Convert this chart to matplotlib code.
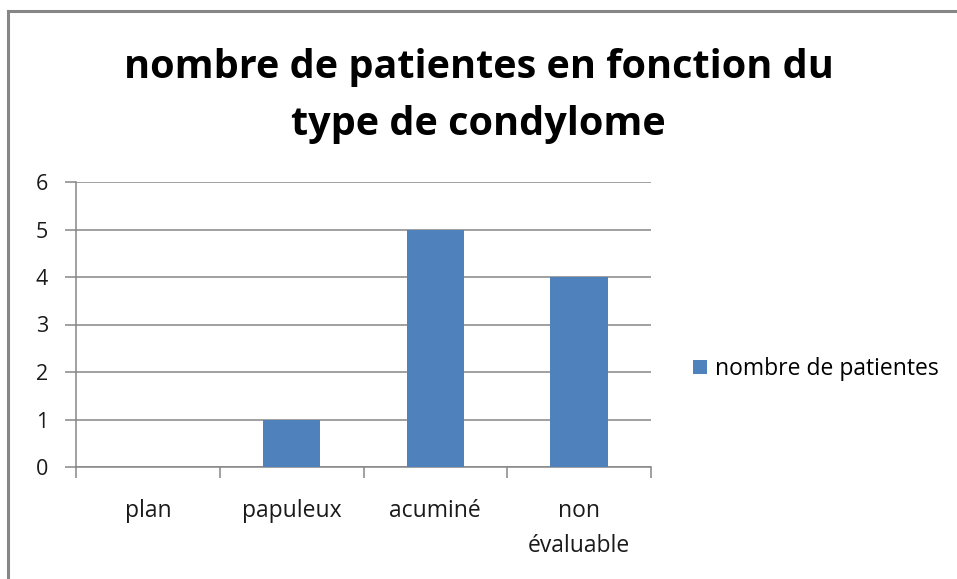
import numpy as np
import matplotlib.pyplot as plt

categories = ["plan", "papuleux", "acuminé", "non\névaluable"]
patientes = [0, 1, 5, 4]
yticks = [0, 1, 2, 3, 4, 5, 6]

plt.rcParams['font.family'] = ['Open Sans', 'DejaVu Sans']

fig = plt.figure(figsize=(9.57, 5.79), dpi=100)
W, H = 957, 579

# chart frame (left + top border only visible)
fig.add_artist(plt.Line2D([8 / W, 8 / W], [0, 1 - 11 / H], transform=fig.transFigure,
                          color="#868686", lw=2.2))
fig.add_artist(plt.Line2D([8 / W, 1], [1 - 11 / H, 1 - 11 / H], transform=fig.transFigure,
                          color="#868686", lw=2.2))

ax = fig.add_axes([76 / W, 1 - 467 / H, (651 - 76) / W, (467 - 182) / H])
x = np.arange(len(categories))
ax.bar(x, patientes, width=0.4, color="#4F81BD", zorder=3, label="nombre de patientes")

ax.set_xlim(-0.5, len(categories) - 0.5)
ax.set_ylim(0, 6)
ax.set_yticks(yticks)
ax.set_yticklabels([str(v) for v in yticks], fontsize=15.5, color="#1a1a1a")
ax.yaxis.grid(True, color="#868686", lw=1.1, zorder=0)

ax.set_xticks(x)
ax.set_xticklabels(categories, fontsize=16.5, color="#1a1a1a", linespacing=1.6)
ax.set_xticks(np.arange(len(categories) + 1) - 0.5, minor=True)
ax.tick_params(axis='x', which='major', length=0, pad=23)
ax.tick_params(axis='x', which='minor', length=8, color="#868686", width=1.1)
ax.tick_params(axis='y', length=8, color="#868686", width=1.1, pad=12)

for s in ["top", "right"]:
    ax.spines[s].set_visible(False)
for s in ["left", "bottom"]:
    ax.spines[s].set_color("#868686")
    ax.spines[s].set_linewidth(1.1)

fig.text(0.5, 1 - 96 / H, "nombre de patientes en fonction du\ntype de condylome",
         ha="center", va="center", fontsize=28.5, fontweight="bold", linespacing=1.58)

fig.legend(loc="center left", bbox_to_anchor=(693 / W, 1 - 369 / H), frameon=False,
           fontsize=16.5, handlelength=0.62, handleheight=0.62, handletextpad=0.33,
           borderpad=0, borderaxespad=0)

fig.savefig("out.png", dpi=100)
